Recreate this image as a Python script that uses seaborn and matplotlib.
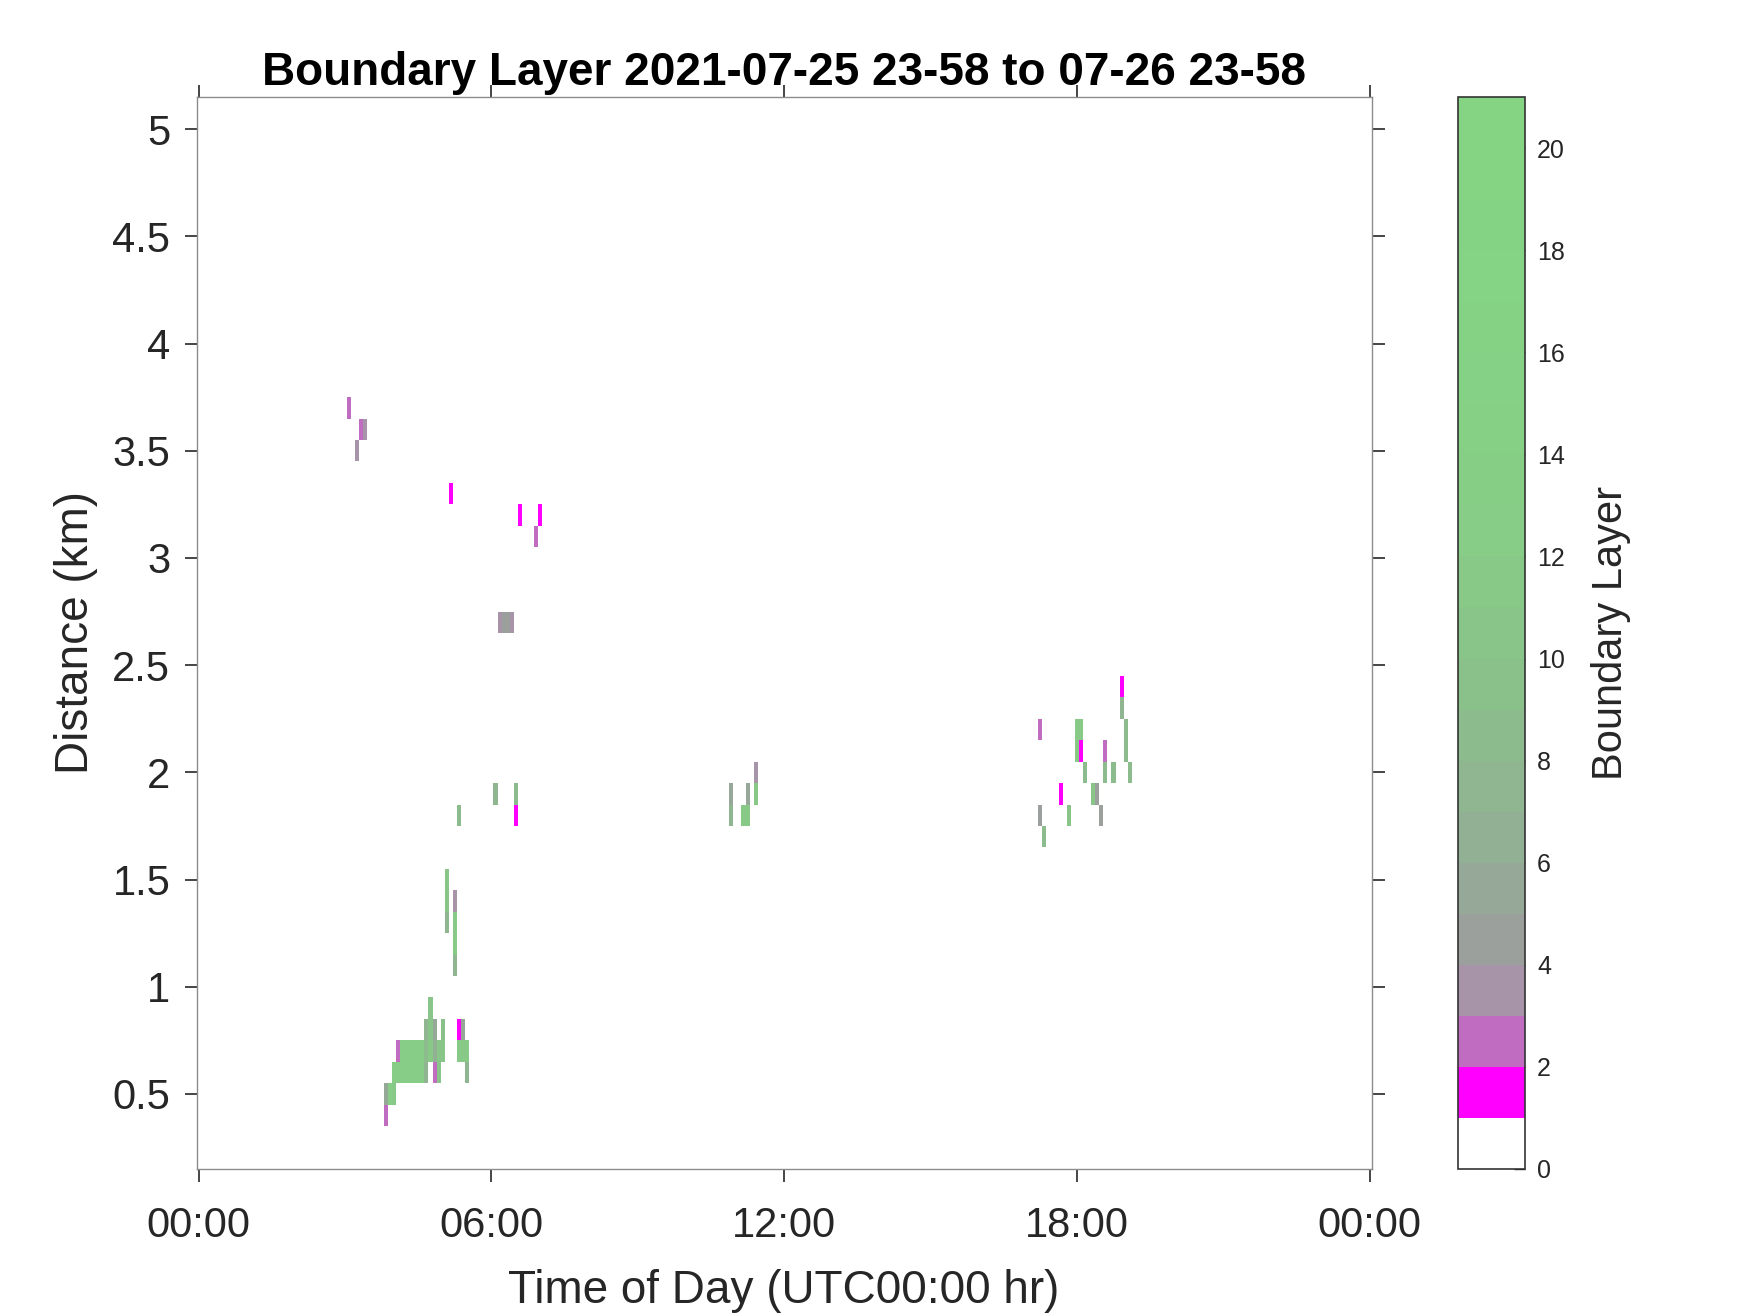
import numpy as np
import matplotlib
matplotlib.use("Agg")
import matplotlib.pyplot as plt
from matplotlib.colors import ListedColormap
import seaborn as sns

sns.set_style("white")
plt.rcParams['font.family'] = ['Liberation Sans', 'DejaVu Sans']

# grille : pas de 5 min (centres 00:00 -> 24:00), portes de 0.1 km (0.2 -> 5.1 km)
pas_min = 5
hauteurs_km = np.round(np.arange(0.2, 5.15, 0.1), 1)
temps_min = np.arange(0, 1440 + pas_min, pas_min)

# cellules detectees (temps en minutes, hauteur en km, niveau couche limite)
cell_temps = [185, 200, 205, 195, 310, 395, 420, 415, 370, 375, 380, 385,
              230, 230, 235, 240,
              240, 245, 250, 255, 260, 265, 270, 275, 280, 290, 295, 330,
              245, 250, 255, 260, 265, 270, 275, 280, 285, 290, 295, 300, 320, 325, 330,
              280, 285, 290, 300, 320, 325,
              285,
              305, 305, 305, 315, 315, 315, 315,
              365, 390, 320, 390,
              655, 655, 675, 670, 675, 685, 685,
              1135, 1135, 1035, 1080, 1085, 1140, 1080, 1085, 1115, 1140,
              1090, 1115, 1125, 1145, 1060, 1100, 1105, 1035, 1070, 1110, 1040]
cell_haut = [3.7, 3.6, 3.6, 3.5, 3.3, 3.2, 3.2, 3.1, 2.7, 2.7, 2.7, 2.7,
             0.4, 0.5, 0.5, 0.5,
             0.6, 0.6, 0.6, 0.6, 0.6, 0.6, 0.6, 0.6, 0.6, 0.6, 0.6, 0.6,
             0.7, 0.7, 0.7, 0.7, 0.7, 0.7, 0.7, 0.7, 0.7, 0.7, 0.7, 0.7, 0.7, 0.7, 0.7,
             0.8, 0.8, 0.8, 0.8, 0.8, 0.8,
             0.9,
             1.5, 1.4, 1.3, 1.4, 1.3, 1.2, 1.1,
             1.9, 1.9, 1.8, 1.8,
             1.9, 1.8, 1.8, 1.8, 1.9, 2.0, 1.9,
             2.4, 2.3, 2.2, 2.2, 2.2, 2.2, 2.1, 2.1, 2.1, 2.1,
             2.0, 2.0, 2.0, 2.0, 1.9, 1.9, 1.9, 1.8, 1.8, 1.8, 1.7]
cell_niveau = [2, 2, 3, 3, 1, 1, 1, 2, 3, 4, 4, 3,
               2, 5, 12, 11,
               12, 12, 12, 12, 12, 12, 12, 12, 7, 2, 10, 7,
               2, 12, 12, 12, 12, 12, 12, 8, 11, 6, 10, 10, 11, 11, 11,
               7, 10, 5, 9, 1, 5,
               10,
               10, 10, 7, 3, 11, 11, 7,
               7, 8, 8, 1,
               5, 7, 11, 11, 5, 3, 11,
               1, 7, 2, 11, 11, 8, 11, 1, 2, 8,
               8, 8, 8, 8, 1, 10, 4, 4, 10, 4, 8]

couleurs = ['#ffffff', '#ff00ff', '#c06cc0', '#a894a8', '#9ca09c', '#96a897',
            '#92b093', '#8fb690', '#8cbc8d', '#8ac18b', '#89c589', '#88c988',
            '#87cc87', '#86ce86', '#86d086', '#85d185', '#85d285', '#85d385',
            '#84d384', '#84d484', '#84d484']
cbar_ticks = list(range(0, 21, 2))

# construction de la grille (ligne 0 = haut)
grille = np.zeros((len(hauteurs_km), len(temps_min)))
for t, h, n in zip(cell_temps, cell_haut, cell_niveau):
    i = len(hauteurs_km) - 1 - int(round((h - 0.2) / 0.1))
    j = int(round(t / pas_min))
    grille[i, j] = n + 0.5

fig = plt.figure(figsize=(17.5, 13.13), dpi=100)
ax = fig.add_axes([0.1124, 0.1097, 0.6714, 0.8164])
cax = fig.add_axes([0.8329, 0.1097, 0.0383, 0.8164])

sns.heatmap(grille, ax=ax, cbar_ax=cax, cmap=ListedColormap(couleurs),
            vmin=0, vmax=21, xticklabels=False, yticklabels=False)

for s in ax.spines.values():
    s.set_visible(True)
    s.set_color('#8c8c8c')
    s.set_linewidth(1.0)

# ticks x en heures, y en km
heures = [0, 6, 12, 18, 24]
ax.set_xticks([h * 12 + 0.5 for h in heures])
ax.set_xticklabels(['00:00', '06:00', '12:00', '18:00', '00:00'])
km = [0.5, 1, 1.5, 2, 2.5, 3, 3.5, 4, 4.5, 5]
ax.set_yticks([51.5 - 10 * v for v in km])
ax.set_yticklabels(['0.5', '1', '1.5', '2', '2.5', '3', '3.5', '4', '4.5', '5'])
ax.tick_params(direction='out', length=9, width=1.2, colors='#262626',
               top=True, right=True, bottom=True, left=True,
               labeltop=False, labelright=False, labelsize=30)
ax.tick_params(axis='x', pad=18)
ax.tick_params(axis='y', pad=10, labelrotation=0)

ax.set_xlabel('Time of Day (UTC00:00 hr)', fontsize=33, color='#262626', labelpad=16)
ax.set_ylabel('Distance (km)', fontsize=33, color='#262626', labelpad=10)
ax.set_title('Boundary Layer 2021-07-25 23-58 to 07-26 23-58',
             fontsize=33, fontweight='bold', color='black', pad=9)

cb = ax.collections[0].colorbar
cb.set_ticks(cbar_ticks)
cb.outline.set_linewidth(1.2)
cb.outline.set_edgecolor('#333333')
cb.ax.tick_params(direction='in', length=8, width=1.0, right=True, left=False,
                  labelsize=18, pad=9, colors='#262626')
cb.set_label('Boundary Layer', fontsize=30, color='#262626', labelpad=19)

fig.savefig('out.png', dpi=100)
